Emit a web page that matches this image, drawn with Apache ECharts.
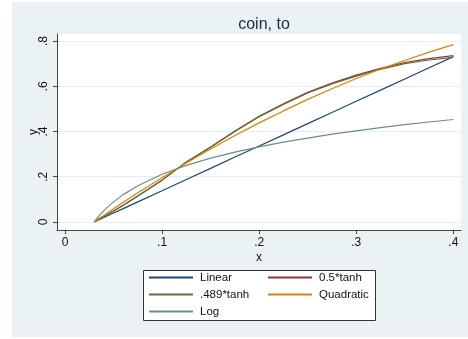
<!DOCTYPE html>
<html>
<head>
<meta charset="utf-8">
<script src="https://cdn.jsdelivr.net/npm/echarts@6/dist/echarts.min.js"></script>
<style>html,body{margin:0;padding:0;background:#fff}#c{width:468px;height:339px}</style>
</head>
<body>
<div id="c"></div>
<script>
const xs        = [0.03, 0.035, 0.04, 0.05, 0.06, 0.075, 0.1, 0.125, 0.15, 0.175, 0.2, 0.225, 0.25, 0.275, 0.3, 0.325, 0.35, 0.375, 0.4];
const linear    = [0, 0.010, 0.020, 0.040, 0.059, 0.089, 0.138, 0.188, 0.237, 0.287, 0.336, 0.385, 0.435, 0.484, 0.534, 0.583, 0.632, 0.682, 0.731];
const tanh05    = [0, 0.012, 0.024, 0.049, 0.074, 0.115, 0.185, 0.265, 0.332, 0.402, 0.467, 0.523, 0.573, 0.614, 0.649, 0.679, 0.705, 0.722, 0.735];
const tanh489   = [0, 0.012, 0.024, 0.049, 0.074, 0.115, 0.185, 0.265, 0.330, 0.400, 0.465, 0.520, 0.570, 0.610, 0.645, 0.675, 0.700, 0.716, 0.728];
const quadratic = [0, 0.015, 0.029, 0.058, 0.087, 0.129, 0.196, 0.261, 0.323, 0.382, 0.438, 0.491, 0.542, 0.589, 0.634, 0.676, 0.714, 0.751, 0.784];
const logv      = [0, 0.027, 0.050, 0.089, 0.121, 0.160, 0.211, 0.250, 0.282, 0.309, 0.332, 0.353, 0.371, 0.388, 0.403, 0.417, 0.430, 0.442, 0.453];
const seriesNames = ['Linear', '0.5*tanh', '.489*tanh', 'Quadratic', 'Log'];
const xTicks = [0, 0.1, 0.2, 0.3, 0.4];
const yTicks = [0, 0.2, 0.4, 0.6, 0.8];
const titleText = 'coin, to';

const colors = ['#1a476f', '#90353b', '#55752f', '#e37e00', '#6e8e84'];
const values = [linear, tanh05, tanh489, quadratic, logv];
const fmt = v => (Math.abs(v) < 1e-9 ? '0' : String(+v.toFixed(2)).replace(/^0/, ''));
const font = 'Liberation Sans, Arial, Helvetica, sans-serif';

const legendCommon = {
  orient: 'vertical', top: 271.5, padding: 0, itemWidth: 44, itemHeight: 12, itemGap: 5, z: 5,
  itemStyle: {opacity: 0},
  textStyle: {fontSize: 11.5, color: '#111', fontFamily: font, padding: [0, 0, 0, 2]}
};

const chart = echarts.init(document.getElementById('c'), null, {renderer: 'canvas'});
chart.setOption({
  animation: false,
  backgroundColor: '#eaf2f3',
  textStyle: {fontFamily: font},
  title: {
    text: titleText, left: 259, top: 12, textAlign: 'center',
    textStyle: {fontSize: 16, fontWeight: 'normal', color: '#1e2a4a', fontFamily: font}
  },
  graphic: [
    {type: 'rect', shape: {x: 0, y: 0, width: 12, height: 339}, style: {fill: '#fff'}, silent: true},
    {type: 'rect', shape: {x: 0, y: 0, width: 468, height: 2}, style: {fill: '#fff'}, silent: true},
    {type: 'rect', shape: {x: 0, y: 337, width: 468, height: 2}, style: {fill: '#fff'}, silent: true},
    {type: 'rect', z: 1, shape: {x: 143.5, y: 270.5, width: 232, height: 50}, style: {fill: '#fff', stroke: '#333', lineWidth: 1}, silent: true}
  ],
  grid: {left: 57, right: 7, top: 34, bottom: 109, show: true, backgroundColor: '#fff', borderWidth: 0},
  xAxis: {
    type: 'value', min: -0.00824, max: 0.4079,
    name: 'x', nameLocation: 'middle', nameGap: 22, nameMoveOverlap: false,
    nameTextStyle: {fontSize: 12, color: '#111', fontFamily: font},
    axisLine: {show: true, onZero: false, lineStyle: {color: '#444', width: 1}},
    axisTick: {show: true, length: 4, customValues: xTicks, lineStyle: {color: '#444'}},
    axisLabel: {customValues: xTicks, formatter: fmt, margin: 7, fontSize: 12, color: '#111', fontFamily: font},
    splitLine: {show: false}
  },
  yAxis: {
    type: 'value', min: -0.0354, max: 0.831,
    name: 'y', nameLocation: 'middle', nameGap: 17, nameMoveOverlap: false,
    nameTextStyle: {fontSize: 12, color: '#111', fontFamily: font},
    axisLine: {show: true, onZero: false, lineStyle: {color: '#444', width: 1}},
    axisTick: {show: true, length: 4, customValues: yTicks, lineStyle: {color: '#444'}},
    axisLabel: {customValues: yTicks, formatter: fmt, rotate: 90, margin: 7, fontSize: 12, color: '#111', fontFamily: font},
    splitLine: {show: true, customValues: yTicks, lineStyle: {color: '#e6eef0', width: 1}}
  },
  legend: [
    Object.assign({left: 148, data: [seriesNames[0], seriesNames[2], seriesNames[4]]}, legendCommon),
    Object.assign({left: 267, data: [seriesNames[1], seriesNames[3]]}, legendCommon)
  ],
  series: seriesNames.map((n, i) => ({
    name: n, type: 'line', symbol: 'none', smooth: false,
    color: colors[i],
    lineStyle: {color: colors[i], width: 1.2},
    data: xs.map((x, j) => [x, values[i][j]])
  }))
});
</script>
</body>
</html>
